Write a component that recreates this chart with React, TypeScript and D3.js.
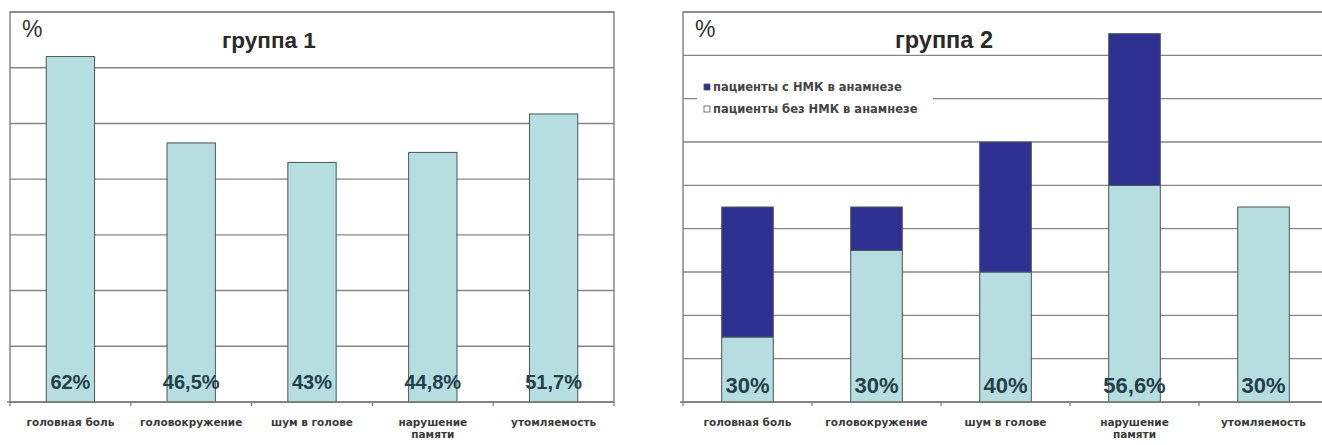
import React from 'react';
import * as d3 from 'd3';

const categories = ['головная боль', 'головокружение', 'шум в голове', 'нарушение\nпамяти', 'утомляемость'];
const group1Values = [62, 46.5, 43, 44.8, 51.7];
const group1Labels = ['62%', '46,5%', '43%', '44,8%', '51,7%'];
const group2WithoutNMK = [15, 35, 30, 50, 45];
const group2WithNMK = [30, 10, 30, 35, 0];
const group2Labels = ['30%', '30%', '40%', '56,6%', '30%'];
const group1Ticks = [10, 20, 30, 40, 50, 60, 70];
const group2Ticks = [10, 20, 30, 40, 50, 60, 70, 80, 90];
const legendLabels = ['пациенты с НМК в анамнезе', 'пациенты без НМК в анамнезе'];

const LIGHT = '#b6dde0';
const DARK = '#2e3192';
const GRID = '#858585';

type SeriesDef = { key: string; values: number[]; fill: string };

function Chart(props: {
  left: number; right: number; top: number; bottom: number;
  yMax: number; ticks: number[]; series: SeriesDef[]; labels: string[];
  labelSize: number; labelOffset: number;
  title: string; titleSize: number; legend?: { labels: string[]; fills: string[] };
}) {
  const { left, right, top, bottom, yMax, ticks, series, labels, labelSize, labelOffset, title, titleSize, legend } = props;
  const x = d3.scaleBand<string>().domain(categories).range([left, right]).paddingInner(0.6).paddingOuter(0.3);
  const y = d3.scaleLinear().domain([0, yMax]).range([bottom, top]);
  const rows = categories.map((c, i) => {
    const r: any = { cat: c };
    series.forEach(s => { r[s.key] = s.values[i]; });
    return r;
  });
  const stack = d3.stack<any>().keys(series.map(s => s.key));
  const stacked = stack(rows);
  const step = x.step();
  const boundaries = d3.range(categories.length + 1).map(i => left + i * step);
  return (
    <g>
      <rect x={left} y={top} width={right - left} height={bottom - top} fill="#fff" stroke="#8f8f8f" strokeWidth={1.6} />
      {ticks.map(t => (
        <line key={t} x1={left} x2={right} y1={y(t)} y2={y(t)} stroke={GRID} strokeWidth={1.4} />
      ))}
      {stacked.map((layer, li) => (
        <g key={layer.key}>
          {layer.map((d, i) => (
            d[1] - d[0] > 0 ? (
              <rect key={i} x={x(categories[i])} width={x.bandwidth()} y={y(d[1])} height={y(d[0]) - y(d[1])}
                fill={series[li].fill} stroke="#4a5658" strokeWidth={1} />
            ) : null
          ))}
        </g>
      ))}
      <line x1={left - 3} x2={right} y1={bottom} y2={bottom} stroke="#7a7a7a" strokeWidth={1.6} />
      {boundaries.map((b, i) => (
        <line key={i} x1={b} x2={b} y1={bottom} y2={bottom + 4} stroke="#7a7a7a" strokeWidth={1.2} />
      ))}
      {labels.map((l, i) => (
        <text key={i} x={(x(categories[i]) as number) + x.bandwidth() / 2} y={bottom - labelOffset} textAnchor="middle"
          fontFamily="Liberation Sans, Arial, sans-serif" fontWeight="bold" fontSize={labelSize} fill="#24404a">{l}</text>
      ))}
      {categories.map((c, i) => (
        <text key={c} x={(x(c) as number) + x.bandwidth() / 2} y={bottom + 24} textAnchor="middle"
          fontFamily="DejaVu Sans, sans-serif" fontWeight="bold" fontSize={10.5} fill="#3a3a3a">
          {c.split('\n').map((line, k) => (
            <tspan key={k} x={(x(c) as number) + x.bandwidth() / 2} dy={k === 0 ? 0 : 12}>{line}</tspan>
          ))}
        </text>
      ))}
      <text x={left + 12} y={top + 25} fontFamily="Liberation Sans, Arial, sans-serif" fontSize={23} fill="#333">%</text>
      <text x={left + 212} y={top + 36} fontFamily="Liberation Sans, Arial, sans-serif" fontWeight="bold" fontSize={titleSize} fill="#2a2a2a">{title}</text>
      {legend ? (
        <g>
          <rect x={left + 14} y={top + 63} width={236} height={45} fill="#fff" />
          {legend.labels.map((l, i) => (
            <g key={l}>
              <rect x={left + 21} y={top + 72 + i * 22} width={6} height={6} fill={legend.fills[i]} stroke="#555" strokeWidth={0.8} />
              <text x={left + 30} y={top + 79 + i * 22} fontFamily="DejaVu Sans, sans-serif" fontWeight="bold" fontSize={11.5} fill="#444">{l}</text>
            </g>
          ))}
        </g>
      ) : null}
    </g>
  );
}

export default function App() {
  return (
    <svg width={1322} height={445} style={{ position: 'absolute', left: 0, top: 0, background: '#fff' }}>
      <rect x={0} y={0} width={1322} height={445} fill="#fff" />
      <Chart left={10} right={614} top={12} bottom={402} yMax={70} ticks={group1Ticks}
        series={[{ key: 'g1', values: group1Values, fill: LIGHT }]} labels={group1Labels}
        labelSize={20} labelOffset={13}
        title="группа 1" titleSize={22.5} />
      <Chart left={683} right={1328} top={12} bottom={402} yMax={90} ticks={group2Ticks}
        series={[{ key: 'without', values: group2WithoutNMK, fill: LIGHT }, { key: 'with', values: group2WithNMK, fill: DARK }]}
        labels={group2Labels} labelSize={22} labelOffset={9}
        title="группа 2" titleSize={23.5}
        legend={{ labels: legendLabels, fills: [DARK, '#fff'] }} />
    </svg>
  );
}
